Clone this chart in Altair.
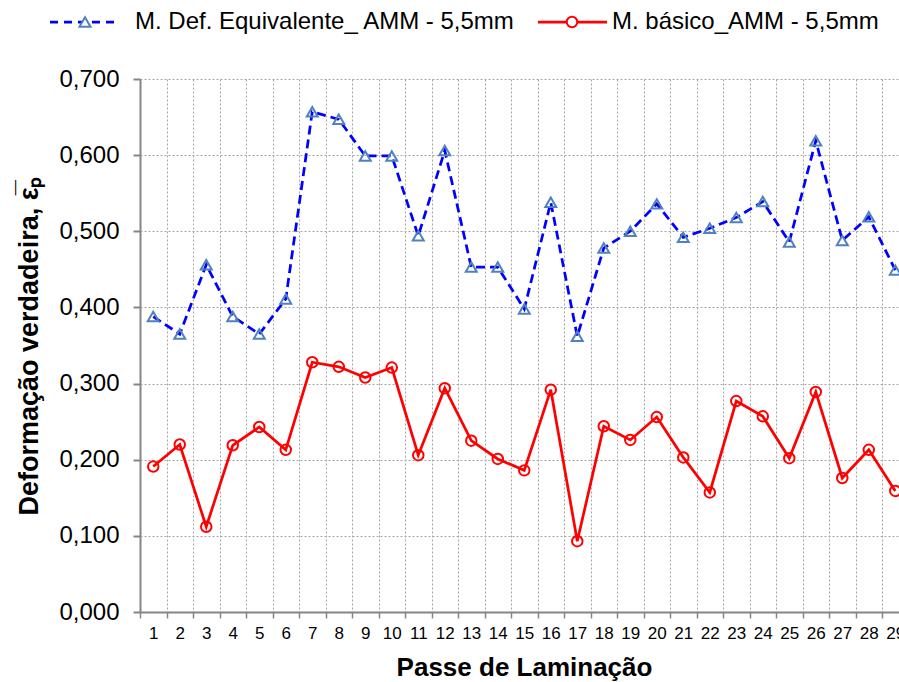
import altair as alt
import pandas as pd

# Rolling passes and true strain per pass for the two models
passes = list(range(1, 30))
def_equivalente = [0.388, 0.365, 0.456, 0.388, 0.365, 0.411, 0.657, 0.647, 0.599, 0.599,
                   0.494, 0.606, 0.453, 0.453, 0.398, 0.538, 0.362, 0.478, 0.500, 0.536,
                   0.492, 0.504, 0.518, 0.539, 0.486, 0.619, 0.488, 0.519, 0.449]
basico = [0.191, 0.220, 0.112, 0.219, 0.243, 0.213, 0.328, 0.322, 0.308, 0.321,
          0.206, 0.294, 0.225, 0.201, 0.186, 0.292, 0.093, 0.244, 0.226, 0.256,
          0.203, 0.157, 0.277, 0.257, 0.202, 0.289, 0.176, 0.213, 0.159]

serie_eq = "M. Def. Equivalente_ AMM - 5,5mm"
serie_bas = "M. básico_AMM - 5,5mm"
y_ticks = [0.0, 0.1, 0.2, 0.3, 0.4, 0.5, 0.6, 0.7]
x_ticks = [i / 2 for i in range(1, 60)]  # category boundaries and centres

df = pd.DataFrame({"Passe": passes, "equivalente": def_equivalente, "basico": basico})

FONT = "Liberation Sans"
AXIS_GREY = "#868686"
GRID_GREY = "#a6a6a6"
BLUE = "#0000ff"
TRI = "#4f81bd"
RED = "#ff0000"

x_axis = alt.Axis(
    values=x_ticks,
    labelExpr="datum.value % 1 === 0 ? format(datum.value, 'd') : ''",
    labelFontSize=17, labelFont=FONT, labelColor="#000000", labelPadding=7,
    labelOverlap=False, labelFlush=False,
    tickSize=6, tickColor=AXIS_GREY, tickWidth=1.5,
    tickOpacity={"condition": {"test": "datum.value % 1 === 0", "value": 0}, "value": 1},
    grid=True, gridColor=GRID_GREY, gridDash=[2, 2], gridWidth=1,
    gridOpacity={"condition": {"test": "datum.value % 1 === 0", "value": 0}, "value": 1},
    domainColor=AXIS_GREY, domainWidth=2,
    title="Passe de Laminação", titleFont=FONT, titleFontSize=26, titleFontWeight="bold",
    titleColor="#000000", titleX=384, titleY=63, titleAlign="center",
    titleBaseline="alphabetic",
)

y_axis = alt.Axis(
    values=y_ticks,
    labelExpr="replace(format(datum.value, '.3f'), '.', ',')",
    labelFontSize=24, labelFont=FONT, labelColor="#000000", labelPadding=14,
    tickSize=7, tickColor=AXIS_GREY, tickWidth=2,
    grid=True, gridColor=GRID_GREY, gridDash=[2, 2], gridWidth=1,
    domainColor=AXIS_GREY, domainWidth=2,
    title="Deformação verdadeira, ε̅ₚ", titleFont=FONT, titleFontSize=27,
    titleFontWeight="bold", titleColor="#000000",
    titleX=-103, titleY=266.5, titleAlign="center", titleBaseline="alphabetic",
    titleAngle=270,
)

x_enc = alt.X("Passe:Q", scale=alt.Scale(domain=[0.5, 29.14], nice=False, zero=False), axis=x_axis)
y_scale = alt.Scale(domain=[0, 0.7], nice=False)

base = alt.Chart(df).encode(x=x_enc)

line_eq = base.mark_line(color=BLUE, strokeWidth=2.75, strokeDash=[9, 5]).encode(
    y=alt.Y("equivalente:Q", scale=y_scale, axis=y_axis)
)
pts_eq = base.mark_point(shape="triangle-up", size=120, filled=False, color=TRI,
                         strokeWidth=2, opacity=1).encode(
    y=alt.Y("equivalente:Q", scale=y_scale, axis=y_axis)
)
line_bas = base.mark_line(color=RED, strokeWidth=2.75).encode(
    y=alt.Y("basico:Q", scale=y_scale, axis=y_axis)
)
pts_bas = base.mark_point(shape="circle", size=110, filled=False, color=RED,
                          strokeWidth=2, opacity=1).encode(
    y=alt.Y("basico:Q", scale=y_scale, axis=y_axis)
)

# Legend drawn above the plot area: line sample, marker and series name
leg_eq = alt.Chart(pd.DataFrame({"serie": [serie_eq]}))
leg_bas = alt.Chart(pd.DataFrame({"serie": [serie_bas]}))
LEG_Y = -57

legend = [
    leg_eq.mark_rule(color=BLUE, strokeWidth=2.75, strokeDash=[8, 6]).encode(
        x=alt.value(-90), x2=alt.value(-22), y=alt.value(LEG_Y)),
    leg_eq.mark_point(shape="triangle-up", size=120, filled=True, fill="#ffffff",
                      stroke=TRI, strokeWidth=2, opacity=1).encode(
        x=alt.value(-55), y=alt.value(LEG_Y)),
    leg_eq.mark_text(align="left", baseline="middle", font=FONT, fontSize=24,
                     color="#000000").encode(
        x=alt.value(-5), y=alt.value(LEG_Y), text="serie:N"),
    leg_bas.mark_rule(color=RED, strokeWidth=2.75).encode(
        x=alt.value(398), x2=alt.value(467), y=alt.value(LEG_Y)),
    leg_bas.mark_point(shape="circle", size=110, filled=True, fill="#ffffff",
                       stroke=RED, strokeWidth=2, opacity=1).encode(
        x=alt.value(432), y=alt.value(LEG_Y)),
    leg_bas.mark_text(align="left", baseline="middle", font=FONT, fontSize=24,
                      color="#000000").encode(
        x=alt.value(472), y=alt.value(LEG_Y), text="serie:N"),
]

chart = alt.layer(line_eq, pts_eq, line_bas, pts_bas, *legend).properties(
    width=759,
    height=533,
    autosize=alt.AutoSizeParams(type="none"),
    padding={"left": 140, "top": 79, "right": 0, "bottom": 70},
    background="#ffffff",
).configure_view(stroke=None)

chart.save("out.html", embed_options={"renderer": "svg", "actions": False})
